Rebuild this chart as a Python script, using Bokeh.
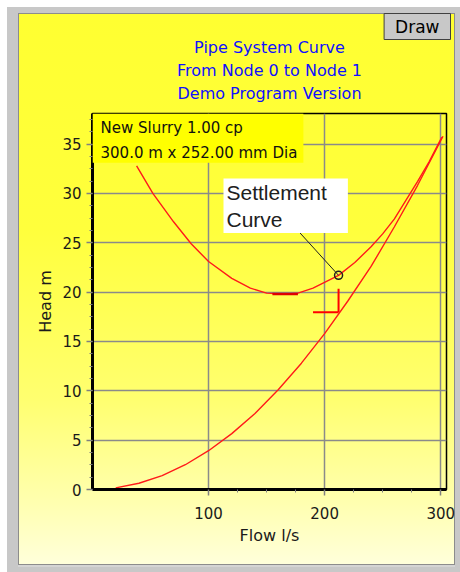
from bokeh.plotting import figure
from bokeh.models import Label, FixedTicker, Range1d, Title
from bokeh.embed import file_html
from bokeh.resources import INLINE

# ---------------- data ----------------
sys_flow = [20, 40, 60, 80, 100, 120, 140, 160, 180, 200, 220, 240, 260, 280, 302]
sys_head = [0.16, 0.63, 1.41, 2.51, 3.93, 5.66, 7.70, 10.1, 12.8, 15.8, 19.1, 22.6, 26.6, 30.8, 35.8]

settle_flow = [38, 52, 70, 85, 100, 120, 136, 150, 165, 177, 190, 212, 226, 240, 250, 260, 270, 280, 290, 301]
settle_head = [32.8, 30.0, 27.1, 24.9, 23.1, 21.4, 20.4, 19.9, 19.8, 19.9, 20.4, 21.7, 23.0, 24.6, 25.9, 27.4, 29.3, 31.2, 33.2, 35.7]

settle_pt_flow = 212
settle_pt_head = 21.7
op_flow = 212
op_head = 17.95
min_flow = [155, 177]
min_head = 19.8

x_ticks = [100, 200, 300]
x_minor = [125, 150, 175, 225, 250, 275]
y_ticks = [0, 5, 10, 15, 20, 25, 30, 35]
y_minor = [i * 1.25 for i in range(31)]

titles = ["Pipe System Curve", "From Node 0 to Node 1", "Demo Program Version"]
button_text = "Draw"
info_lines = ["New Slurry 1.00 cp", "300.0 m x 252.00 mm Dia"]
note_lines = ["Settlement", "Curve"]
x_label = "Flow l/s"
y_label = "Head m"

FONT = "DejaVu Sans"

p = figure(width=460, height=572, output_backend="svg", toolbar_location=None,
           x_range=Range1d(0, 305), y_range=Range1d(0, 38.1),
           min_border_left=92, min_border_right=14, min_border_top=113, min_border_bottom=83)
p.title = None
p.background_fill_color = None
p.border_fill_color = None
p.outline_line_color = "black"
p.outline_line_width = 1.5
p.styles = {
    "background": "linear-gradient(to bottom, #ffff30 0%, #ffff3c 40%, #ffff70 70%, #ffffb0 88%, #ffffe0 100%)",
    "box-shadow": ("inset 7px 7px 0 #ffffff, "
                   "inset 18px 13px 0 #c8c8c8, "
                   "inset -5px -5px 0 #c8c8c8, "
                   "inset -5px -7px 0 #d4d4d4, "
                   "inset 19px 14px 0 #8c8c8c, "
                   "inset -6px -8px 0 #8c8c8c"),
}

# axes
p.xaxis.ticker = FixedTicker(ticks=x_ticks, minor_ticks=x_minor)
p.yaxis.ticker = FixedTicker(ticks=y_ticks, minor_ticks=y_minor)
for ax in (p.xaxis[0], p.yaxis[0]):
    ax.axis_line_color = "black"
    ax.axis_line_width = 3
    ax.major_tick_line_color = "#808080"
    ax.major_tick_line_width = 1.5
    ax.major_tick_out = 6
    ax.major_tick_in = 0
    ax.minor_tick_line_color = "#808080"
    ax.minor_tick_out = 3
    ax.minor_tick_in = 0
    ax.major_label_text_font = FONT
    ax.major_label_text_font_size = "15px"
    ax.major_label_text_color = "#1a1a1a"
    ax.axis_label_text_font = FONT
    ax.axis_label_text_font_size = "16px"
    ax.axis_label_text_font_style = "normal"
    ax.axis_label_text_color = "#1a1a1a"
p.xaxis.axis_label = x_label
p.yaxis.axis_label = y_label
p.xaxis.major_label_standoff = 11
p.xaxis.axis_label_standoff = 4
p.yaxis.major_label_standoff = 5
p.yaxis.axis_label_standoff = 4

p.xgrid.ticker = FixedTicker(ticks=x_ticks)
p.ygrid.ticker = FixedTicker(ticks=y_ticks[1:])
p.grid.grid_line_color = "#8a8a8a"
p.grid.grid_line_width = 1.5

# curves
p.line(sys_flow, sys_head, line_color="#ff1a1a", line_width=1.4)
p.line(settle_flow, settle_head, line_color="#ff1a1a", line_width=1.4)
p.segment(x0=[min_flow[0]], y0=[min_head], x1=[min_flow[1]], y1=[min_head],
          line_color="#e00000", line_width=2.5)

# operating point mark
p.segment(x0=[op_flow, op_flow - 22], y0=[op_head, op_head], x1=[op_flow, op_flow],
          y1=[op_head + 2.4, op_head], line_color="#ff0000", line_width=2)

# settlement annotation
p.segment(x0=[178], y0=[26.1], x1=[settle_pt_flow], y1=[settle_pt_head],
          line_color="#202020", line_width=1)
p.scatter([settle_pt_flow], [settle_pt_head], marker="circle", size=8,
          fill_color=None, line_color="#202020", line_width=1.5)

p.add_layout(Label(x=131, y=311, x_units="screen", y_units="screen",
                   text="\n".join(note_lines), anchor="top_left",
                   text_font="Liberation Sans", text_font_size="21px",
                   text_color="#202020", text_line_height=1.2,
                   background_fill_color="white",
                   padding=dict(left=3, right=21, top=2, bottom=2)))

# info box
p.add_layout(Label(x=0, y=376, x_units="screen", y_units="screen",
                   text="\n".join(info_lines), anchor="top_left",
                   text_font=FONT, text_font_size="15px",
                   text_color="#111111", text_line_height=1.4,
                   background_fill_color="#ffff00",
                   padding=dict(left=8, right=6, top=5, bottom=1)))

# titles (first added sits closest to the frame); a tiny spacer first
p.add_layout(Title(text=" ", text_font_size="4px", standoff=4), "above")
standoffs = [0, 4, 0]
for t, s in zip(titles[::-1], standoffs[::-1]):
    p.add_layout(Title(text=t, align="center", text_font=FONT, text_font_size="16px",
                       text_font_style="normal", text_color="#1010ff", standoff=s), "above")

p.add_layout(Title(text=button_text, align="right", vertical_align="bottom",
                   text_font=FONT, text_font_size="17px",
                   text_font_style="normal", text_color="black", standoff=-8, offset=-4,
                   background_fill_color="#c8c8c8", border_line_color="#404040",
                   border_line_width=1, padding=dict(left=11, right=11, top=3, bottom=3)), "above")

open("out.html", "w").write(file_html(p, INLINE))
